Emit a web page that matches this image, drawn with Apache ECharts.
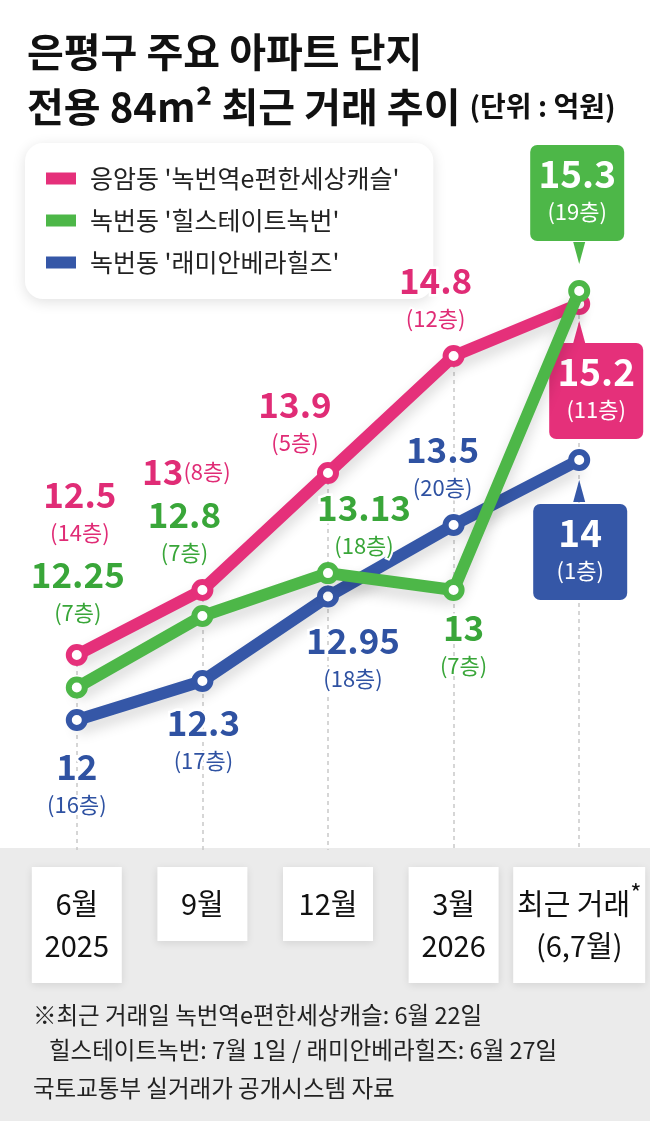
<!DOCTYPE html>
<html>
<head>
<meta charset="utf-8">
<script src="https://cdn.jsdelivr.net/npm/echarts@6/dist/echarts.min.js"></script>
<style>
  html, body { margin: 0; padding: 0; background: #fff; }
  #chart { width: 650px; height: 1121px; }
</style>
</head>
<body>
<div id="chart"></div>
<script>
// 데이터
var categories = ['6월\n2025', '9월', '12월', '3월\n2026', '최근 거래\n(6,7월)'];
var categoryNotes = ['', '', '', '', '*'];
var seriesNames = ["응암동 '녹번역e편한세상캐슬'", "녹번동 '힐스테이트녹번'", "녹번동 '래미안베라힐즈'"];
var pinkValues = [12.5, 13, 13.9, 14.8, 15.2];
var pinkFloors = [14, 8, 5, 12, 11];
var greenValues = [12.25, 12.8, 13.13, 13, 15.3];
var greenFloors = [7, 7, 18, 7, 19];
var blueValues = [12, 12.3, 12.95, 13.5, 14];
var blueFloors = [16, 17, 18, 20, 1];
var notes = [
  '※최근 거래일 녹번역e편한세상캐슬: 6월 22일',
  '힐스테이트녹번: 7월 1일 / 래미안베라힐즈: 6월 27일',
  '국토교통부 실거래가 공개시스템 자료'
];

var FONT = '"Noto Sans CJK KR", "Noto Sans", sans-serif';
var PINK = '#E5307A', GREEN = '#4DB748', BLUE = '#3557A7';
var PINK_T = '#E02C76', GREEN_T = '#39A639', BLUE_T = '#2F52A2';

// 라벨 위치 (점 기준 오프셋)
var pinkLayout = [
  {offset: [3, -141]}, {offset: [-16, -118], inline: true}, {offset: [-33, -49]},
  {offset: [-18, -56]}, {offset: [17, 87], box: true}
];
var greenLayout = [
  {offset: [1, -94]}, {offset: [-18, -82]}, {offset: [36, -46]},
  {offset: [10, 57]}, {offset: [-2, -98], box: true}
];
var blueLayout = [
  {offset: [0, 66]}, {offset: [1, 61]}, {offset: [25, 63]},
  {offset: [-11, -56]}, {offset: [1, 92], box: true}
];

function makeData(values, floors, layout, lineColor, textColor){
  return values.map(function(v, i){
    var lay = layout[i];
    var label = {
      show: true,
      position: 'inside',
      align: 'center',
      verticalAlign: 'middle',
      offset: lay.offset,
      formatter: function(){
        if(lay.box){
          return '{vb|' + v + '}\n{fb|(' + floors[i] + '층)}';
        }
        return '{v|' + v + '}' + (lay.inline ? '' : '\n') + '{f|(' + floors[i] + '층)}';
      },
      rich: {
        v: {fontFamily: FONT, fontSize: 35, fontWeight: 'bold', color: textColor, lineHeight: 38,
            textBorderColor: '#fff', textBorderWidth: 5},
        f: {fontFamily: FONT, fontSize: 22, color: textColor, lineHeight: 38,
            textBorderColor: '#fff', textBorderWidth: 4},
        vb: {fontFamily: FONT, fontSize: 37, fontWeight: 'bold', color: '#fff', lineHeight: 38, align: 'center'},
        fb: {fontFamily: FONT, fontSize: 22, color: '#fff', lineHeight: 38, align: 'center'}
      }
    };
    if(lay.box){
      label.backgroundColor = lineColor;
      label.borderRadius = 7;
      label.width = 94;
      label.padding = [10, 0, 10, 0];
    }
    return {value: v, label: label};
  });
}

function makeSeries(name, values, floors, layout, lineColor, textColor, z){
  return {
    name: name,
    type: 'line',
    z: z,
    data: makeData(values, floors, layout, lineColor, textColor),
    symbol: 'circle',
    symbolSize: 16,
    itemStyle: {color: '#fff', borderColor: lineColor, borderWidth: 6},
    lineStyle: {width: 12, color: lineColor, shadowColor: 'rgba(0,0,0,0.16)', shadowBlur: 14, shadowOffsetY: 8},
    emphasis: {disabled: true}
  };
}

// 각 시점의 가장 높은 점에서 아래로 점선
var yMin = 11, yMax = 16;
var guideLines = categories.map(function(c, i){
  var top = Math.max(pinkValues[i], greenValues[i], blueValues[i]);
  return [{coord: [i, top]}, {coord: [i, yMin]}];
});

var blueSeries = makeSeries(seriesNames[2], blueValues, blueFloors, blueLayout, BLUE, BLUE_T, 3);
blueSeries.markLine = {
  silent: true, z: 1, symbol: 'none', label: {show: false},
  lineStyle: {color: '#c9c9c9', type: [4, 4], width: 1.5, shadowBlur: 0},
  data: guideLines
};
var pinkSeries = makeSeries(seriesNames[0], pinkValues, pinkFloors, pinkLayout, PINK, PINK_T, 4);
var greenSeries = makeSeries(seriesNames[1], greenValues, greenFloors, greenLayout, GREEN, GREEN_T, 5);

// 박스 꼬리(삼각형)
var last = categories.length - 1;
function pointer(values, color, offY, rotate){
  return {
    silent: true,
    symbol: 'triangle',
    symbolSize: [12, 22],
    symbolRotate: rotate,
    symbolOffset: [0, offY],
    itemStyle: {color: color, borderWidth: 0},
    label: {show: false},
    data: [{coord: [last, values[last]]}]
  };
}
greenSeries.markPoint = pointer(greenValues, GREEN, -38, 180);
pinkSeries.markPoint = pointer(pinkValues, PINK, 28, 0);
blueSeries.markPoint = pointer(blueValues, BLUE, 31, 0);

var xData = categories.map(function(c, i){
  var item = {value: c};
  if(categoryNotes[i]) item.textStyle = {width: 132};
  return item;
});

var legendColors = [PINK, GREEN, BLUE];
var legendData = seriesNames.map(function(n, i){
  return {name: n, itemStyle: {color: legendColors[i], borderWidth: 0}};
});

var dom = document.getElementById('chart');
var myChart = echarts.init(dom, null, {renderer: 'canvas'});
var option = {
  backgroundColor: '#fff',
  animation: false,
  textStyle: {fontFamily: FONT},
  title: {
    left: 22,
    top: 19,
    text: '은평구 주요 아파트 단지\n전용 84m² 최근 거래 추이 {u|(단위 : 억원)}',
    textStyle: {
      fontFamily: FONT, fontSize: 40, fontWeight: 'bold', color: '#111', lineHeight: 55,
      rich: {
        u: {fontFamily: FONT, fontSize: 28, fontWeight: 'bold', color: '#111', lineHeight: 55}
      }
    }
  },
  legend: {
    orient: 'vertical',
    left: 25,
    top: 143,
    data: legendData,
    icon: 'rect',
    itemWidth: 30,
    itemHeight: 12,
    itemGap: 17,
    backgroundColor: '#fff',
    borderRadius: 18,
    padding: [23, 34, 24, 21],
    shadowColor: 'rgba(0,0,0,0.12)',
    shadowBlur: 14,
    shadowOffsetY: 3,
    selectedMode: false,
    textStyle: {fontFamily: FONT, fontSize: 25, color: '#222', lineHeight: 25, padding: [0, 0, 0, 9]}
  },
  grid: {left: 14, right: 8, top: 200, bottom: 271},
  xAxis: {
    type: 'category',
    data: xData,
    axisLine: {show: false},
    axisTick: {show: false},
    axisLabel: {
      interval: 0,
      margin: 17,
      fontFamily: FONT,
      fontSize: 29,
      color: '#111',
      lineHeight: 42,
      align: 'center',
      width: 90,
      backgroundColor: '#fff',
      padding: [16, 0, 16, 0],
      shadowColor: 'rgba(0,0,0,0.10)',
      shadowBlur: 8,
      shadowOffsetY: 2,
      formatter: function(value, i){
        var lines = value.split('\n');
        if(categoryNotes[i]){
          lines[0] = lines[0] + '{s|' + categoryNotes[i] + '}';
        }
        return lines.join('\n');
      },
      rich: {
        s: {fontFamily: FONT, fontSize: 24, color: '#111', lineHeight: 42, padding: [0, 0, 22, 0]}
      }
    }
  },
  yAxis: {
    type: 'value',
    min: yMin,
    max: yMax,
    show: false,
    splitLine: {show: false}
  },
  graphic: [
    {type: 'rect', z: -10, silent: true, shape: {x: 0, y: 848, width: 650, height: 273}, style: {fill: '#EBEBEB'}},
    {type: 'text', left: 33, top: 1003, silent: true,
     style: {text: notes[0], fontFamily: FONT, fontSize: 23.5, fill: '#222'}},
    {type: 'text', left: 49, top: 1038, silent: true,
     style: {text: notes[1], fontFamily: FONT, fontSize: 23.5, fill: '#222'}},
    {type: 'text', left: 33, top: 1076, silent: true,
     style: {text: notes[2], fontFamily: FONT, fontSize: 23.5, fill: '#222'}}
  ],
  series: [blueSeries, pinkSeries, greenSeries]
};
myChart.setOption(option);
</script>
</body>
</html>
